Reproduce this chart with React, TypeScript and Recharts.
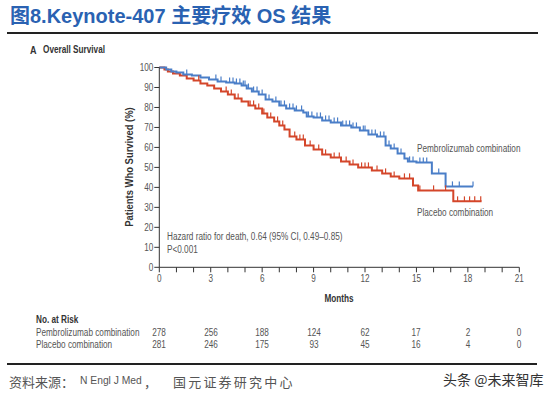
import React from "react";
import { ComposedChart, Line, Scatter, XAxis, YAxis } from "recharts";

// axis ticks
const monthTicks = [0, 1, 2, 3, 4, 5, 6, 7, 8, 9, 10, 11, 12, 13, 14, 15, 16, 17, 18, 19, 20, 21];
const survivalTicks = [0, 10, 20, 30, 40, 50, 60, 70, 80, 90, 100];

// Pembrolizumab combination (KM steps, months / % surviving)
const pembroTimes = [0, 0.4, 0.7, 1.0, 1.4, 1.9, 2.4, 2.9, 3.4, 3.9, 4.4, 4.8, 5.1, 5.4, 5.8, 6.2, 6.6, 7.0, 7.4, 7.9, 8.4, 8.6, 9.0, 9.5, 10.0, 10.6, 11.2, 11.7, 12.2, 12.7, 13.2, 13.5, 13.9, 14.3, 14.5, 15.0, 15.9, 16.7, 18.3];
const pembroSurv = [100, 99, 98, 97.5, 96.5, 96, 95, 94, 93, 92.5, 92, 91, 89.5, 88, 86.5, 84, 83, 81, 79.5, 78.5, 77.5, 75.5, 75, 73.5, 72.5, 71, 70, 68.5, 66.5, 65.5, 61, 59.5, 57, 54.5, 53, 52.5, 47, 40.5, 40.5];
const pembroCensor = [1.6, 3.3, 3.6, 4.1, 4.3, 4.5, 4.7, 4.9, 5.0, 5.2, 5.5, 5.7, 6.0, 6.4, 6.8, 7.1, 7.3, 7.6, 7.8, 8.0, 8.3, 8.7, 8.9, 9.2, 9.4, 9.7, 9.9, 10.2, 10.4, 10.7, 10.9, 11.1, 11.3, 11.5, 11.9, 12.0, 12.4, 12.6, 12.9, 13.1, 13.4, 13.7, 14.1, 14.6, 14.8, 15.2, 15.4, 15.6, 16.3, 17.1, 17.5, 18.3];

// Placebo combination
const placeboTimes = [0, 0.3, 0.5, 0.8, 1.2, 1.6, 2.0, 2.4, 2.8, 3.2, 3.6, 4.0, 4.4, 4.8, 5.2, 5.6, 6.0, 6.3, 6.7, 7.0, 7.3, 7.6, 8.0, 8.5, 9.0, 9.5, 10.0, 10.6, 11.1, 11.6, 12.4, 13.0, 13.5, 14.0, 14.8, 15.1, 17.15, 18.8];
const placeboSurv = [100, 99, 98, 97, 96, 94.5, 93.5, 92, 91, 89.5, 88, 86.5, 84.5, 83, 81, 79.5, 77, 75, 73, 71, 69, 65.5, 64, 61, 59, 56.5, 55, 53, 51.5, 50, 48.5, 47, 45.5, 44.5, 41, 38.5, 33, 33];
const placeboCensor = [2.3, 3.9, 4.2, 4.6, 5.3, 5.5, 5.8, 6.1, 6.5, 6.9, 7.2, 7.9, 8.2, 8.4, 8.8, 9.3, 9.7, 10.2, 10.5, 10.9, 11.3, 11.8, 12.0, 12.2, 12.7, 13.2, 13.7, 14.3, 14.6, 15.2, 16.0, 16.7, 17.4, 17.8, 18.1, 18.4, 18.75];

// number at risk
const riskTimes = [0, 3, 6, 9, 12, 15, 18, 21];
const pembroAtRisk = [278, 256, 188, 124, 62, 17, 2, 0];
const placeboAtRisk = [281, 246, 175, 93, 45, 16, 4, 0];

const BLUE = "#4a7ec8";
const RED = "#d4462a";
const GREY = "#555";
const SANS = '"Liberation Sans", Arial, sans-serif';
const CJK = '"Noto Sans CJK SC", sans-serif';
const SQUEEZE = 0.82; // no narrow face installed, so squeeze the regular one

// plot box in page pixels
const PLOT_LEFT = 159.3;
const PLOT_RIGHT = 519.3;
const X_MAX = 21;

const toRows = (times: number[], surv: number[]) => times.map((t, i) => ({ t, s: surv[i] }));

// censor marks sit on the curve value in force at that time
const censorRows = (censor: number[], times: number[], surv: number[]) =>
  censor.map((t) => {
    let s = surv[0];
    times.forEach((ti, i) => {
      if (ti <= t) s = surv[i];
    });
    return { t, s };
  });

const pembroData = toRows(pembroTimes, pembroSurv);
const placeboData = toRows(placeboTimes, placeboSurv);
const pembroMarks = censorRows(pembroCensor, pembroTimes, pembroSurv);
const placeboMarks = censorRows(placeboCensor, placeboTimes, placeboSurv);

const censorShape = (color: string) => (props: any) => {
  const { cx, cy } = props;
  return <line x1={cx} x2={cx} y1={cy} y2={cy - 5} stroke={color} strokeWidth={1.2} />;
};

function MonthTick(props: any) {
  const { x, y, payload } = props;
  if (payload.value % 3 !== 0) return <g />;
  return (
    <text
      transform={`translate(${x},${y}) scale(${SQUEEZE},1)`}
      dy={8}
      textAnchor="middle"
      fill={GREY}
      fontSize={10}
      fontFamily={SANS}
    >
      {payload.value}
    </text>
  );
}

function SurvTick(props: any) {
  const { x, y, payload } = props;
  return (
    <text
      transform={`translate(${x},${y}) scale(${SQUEEZE},1)`}
      dy="0.35em"
      textAnchor="end"
      fill={GREY}
      fontSize={10}
      fontFamily={SANS}
    >
      {payload.value}
    </text>
  );
}

function Txt({ x, y, size = 10, bold = false, color = GREY, family = SANS, squeeze = true, center = false, children, style }: any) {
  const sx = squeeze ? ` scaleX(${SQUEEZE})` : "";
  return (
    <div
      style={{
        position: "absolute",
        left: x,
        top: y,
        transform: (center ? "translate(-50%, -50%)" : "translateY(-50%)") + sx,
        transformOrigin: center ? "center" : "left center",
        fontSize: size,
        fontWeight: bold ? 700 : 400,
        color,
        fontFamily: family,
        lineHeight: 1,
        whiteSpace: "nowrap",
        ...style,
      }}
    >
      {children}
    </div>
  );
}

const monthX = (t: number) => PLOT_LEFT + (t / X_MAX) * (PLOT_RIGHT - PLOT_LEFT);

export default function App() {
  return (
    <div style={{ position: "absolute", left: 0, top: 0, width: 554, height: 397, background: "#fff", overflow: "hidden" }}>
      <Txt x={10} y={16} size={20} bold squeeze={false} color="#2a62b2" family={'"Liberation Sans", Arial, "Noto Sans CJK SC", sans-serif'}>
        图8.Keynote-407 主要疗效 OS 结果
      </Txt>
      <div style={{ position: "absolute", left: 7, top: 32, width: 531, height: 2, background: "#222" }} />

      <Txt x={30} y={50} size={11} bold color="#333">A</Txt>
      <Txt x={42.5} y={50} size={10} bold color="#333">Overall Survival</Txt>

      <div style={{ position: "absolute", left: 0, top: 0 }}>
        <ComposedChart width={554} height={300} margin={{ top: 67.5, right: 34.7, bottom: 7.7, left: 99.3 }}>
          <XAxis
            type="number"
            dataKey="t"
            domain={[0, X_MAX]}
            ticks={monthTicks}
            interval={0}
            tick={<MonthTick />}
            tickSize={5}
            tickMargin={2}
            height={25}
            stroke="#333"
          />
          <YAxis
            type="number"
            domain={[0, 100]}
            ticks={survivalTicks}
            interval={0}
            width={60}
            tickSize={5}
            tickMargin={1}
            stroke="#333"
            tick={<SurvTick />}
          />
          <Line
            data={placeboData}
            dataKey="s"
            type="stepAfter"
            stroke={RED}
            strokeWidth={2}
            dot={false}
            activeDot={false}
            isAnimationActive={false}
          />
          <Scatter data={placeboMarks} dataKey="s" shape={censorShape(RED)} isAnimationActive={false} />
          <Line
            data={pembroData}
            dataKey="s"
            type="stepAfter"
            stroke={BLUE}
            strokeWidth={2}
            dot={false}
            activeDot={false}
            isAnimationActive={false}
          />
          <Scatter data={pembroMarks} dataKey="s" shape={censorShape(BLUE)} isAnimationActive={false} />
        </ComposedChart>
      </div>

      <div
        style={{
          position: "absolute",
          left: 130,
          top: 167,
          transform: `translate(-50%, -50%) rotate(-90deg) scaleX(${SQUEEZE})`,
          fontSize: 11.5,
          fontWeight: 700,
          color: "#333",
          fontFamily: SANS,
          whiteSpace: "nowrap",
          lineHeight: 1,
        }}
      >
        Patients Who Survived (%)
      </div>

      <Txt x={417} y={149}>Pembrolizumab combination</Txt>
      <Txt x={417} y={212.5}>Placebo combination</Txt>
      <Txt x={166.5} y={237}>Hazard ratio for death, 0.64 (95% CI, 0.49–0.85)</Txt>
      <Txt x={166.5} y={250}>P&lt;0.001</Txt>

      <Txt x={339.3} y={299} bold center color="#333">Months</Txt>

      <Txt x={36} y={319.5} bold color="#333">No. at Risk</Txt>
      <Txt x={36} y={332.5}>Pembrolizumab combination</Txt>
      <Txt x={36} y={344.5}>Placebo combination</Txt>
      {riskTimes.map((t, i) => (
        <React.Fragment key={t}>
          <Txt x={monthX(t)} y={332.5} center>{pembroAtRisk[i]}</Txt>
          <Txt x={monthX(t)} y={344.5} center>{placeboAtRisk[i]}</Txt>
        </React.Fragment>
      ))}

      <div style={{ position: "absolute", left: 7, top: 363, width: 530, height: 2, background: "#222" }} />

      <Txt x={9} y={381} size={13} family={CJK} squeeze={false} color="#555">资料来源：</Txt>
      <Txt x={80} y={381} size={10.3} family={SANS} squeeze={false} color="#555">N Engl J Med</Txt>
      <Txt x={144} y={381} size={13} family={CJK} squeeze={false} color="#555">，</Txt>
      <Txt x={173} y={381} size={13} family={CJK} squeeze={false} color="#555" style={{ letterSpacing: 2.2 }}>国元证券研究中心</Txt>
      <Txt x={443} y={378.5} size={14} family={CJK} squeeze={false} color="#333">头条 @未来智库</Txt>
    </div>
  );
}
